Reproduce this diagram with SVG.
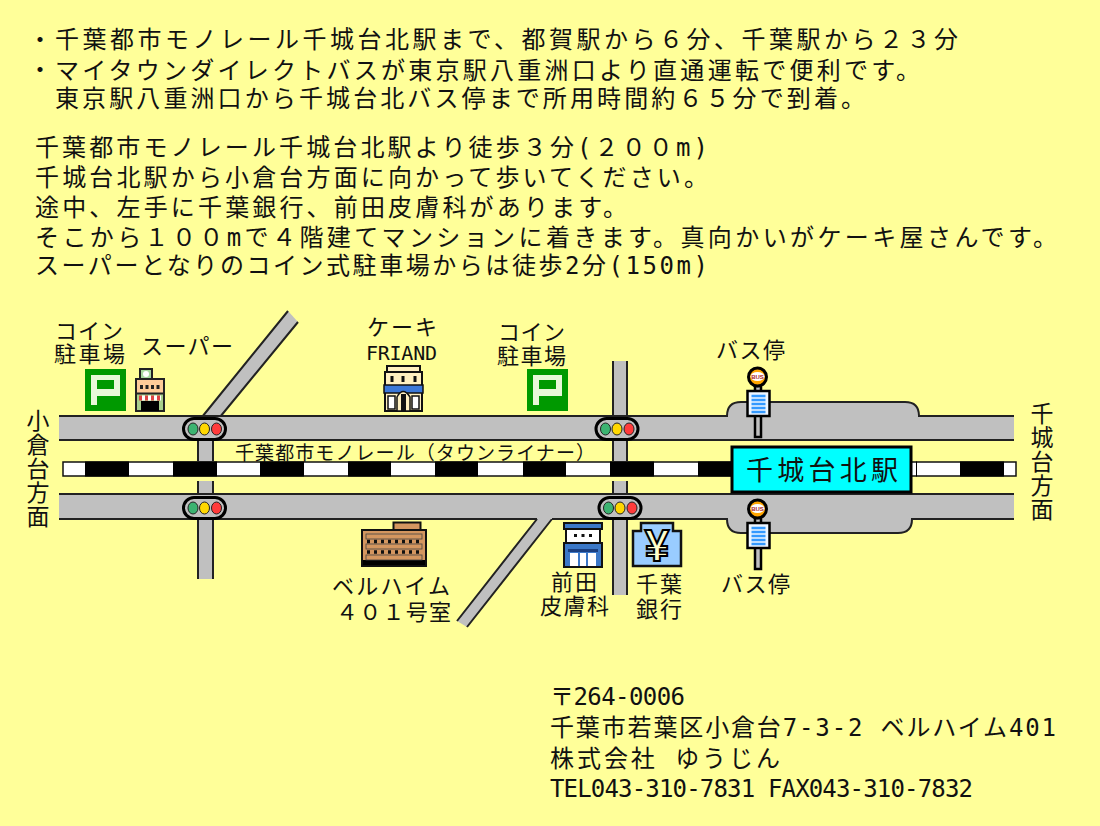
<svg xmlns="http://www.w3.org/2000/svg" width="1100" height="826" viewBox="0 0 1100 826">
<style>
text{font-family:"DejaVu Sans Mono","Noto Sans CJK JP","Noto Sans",sans-serif;fill:#111;font-size:24px}
.s{font-size:22px}
.v{font-size:23px;writing-mode:vertical-rl;letter-spacing:1px}
.rd{fill:#c0c0c0}
.ln{fill:none;stroke:#222;stroke-width:2}
</style>
<defs>
<g id="light">
<rect x="1.5" y="1.5" width="42" height="21" rx="10.5" fill="#c0c0c0" stroke="#000" stroke-width="3"/>
<ellipse cx="11" cy="12" rx="5" ry="6" fill="#3cb371" stroke="#222"/>
<ellipse cx="22.5" cy="12" rx="5" ry="6" fill="#ffd700" stroke="#222"/>
<ellipse cx="34.5" cy="12" rx="5" ry="6" fill="#ff3b3b" stroke="#222"/>
</g>
<g id="parking">
<rect width="41" height="42" fill="#009900"/>
<path fill-rule="evenodd" fill="#e8f8d8" d="M6 6H35V27H12V36H6ZM12 11V20H29V11Z"/>
</g>
<g id="busstop">
<rect x="-2.500" y="9" width="6" height="51" fill="#c0c0c0" stroke="#000" stroke-width="2.500"/>
<circle cx="0" cy="0" r="9" fill="#ffa500" stroke="#000" stroke-width="3"/>
<ellipse cx="0" cy="-0.5" rx="7" ry="4.500" fill="#fff"/>
<text x="0" y="1.500" text-anchor="middle" style="font-size:6px;fill:#a22;font-weight:700;font-family:'Liberation Sans',sans-serif">BUS</text>
<rect x="-10" y="14" width="22" height="25" fill="#eef6ff" stroke="#000" stroke-width="2.500"/>
<path d="M-6 19H8M-6 23H8M-6 27H8M-6 31H8M-6 35H8" stroke="#3399ff" stroke-width="2.400"/>
</g>
</defs>
<rect width="1100" height="826" fill="#ffff99"/>

<g id="info-text">
<text x="28" y="48">・</text>
<text x="55" y="48" textLength="903">千葉都市モノレール千城台北駅まで、都賀駅から６分、千葉駅から２３分</text>
<text x="28" y="78">・</text>
<text x="55" y="79" textLength="865">マイタウンダイレクトバスが東京駅八重洲口より直通運転で便利です。</text>
<text x="55" y="107" textLength="810">東京駅八重洲口から千城台北バス停まで所用時間約６５分で到着。</text>
<text x="35" y="156" textLength="673">千葉都市モノレール千城台北駅より徒歩３分(２００m)</text>
<text x="35" y="186" textLength="673">千城台北駅から小倉台方面に向かって歩いてください。</text>
<text x="35" y="216" textLength="592">途中、左手に千葉銀行、前田皮膚科があります。</text>
<text x="35" y="246" textLength="1022">そこから１００mで４階建てマンションに着きます。真向かいがケーキ屋さんです。</text>
<text x="35" y="274" textLength="673">スーパーとなりのコイン式駐車場からは徒歩2分(150m)</text>
</g>

<g id="connectors">
<rect class="rd" x="198" y="438" width="15" height="24"/>
<rect class="rd" x="198" y="481" width="15" height="98"/>
<path class="ln" d="M198 440V461M213 440V461M198 481V495M213 481V495M198 519V579M213 519V579"/>
<rect class="rd" x="613" y="361" width="14" height="101"/>
<rect class="rd" x="613" y="481" width="14" height="114"/>
<path class="ln" d="M613 361V416M627 361V416M613 440V461M627 440V461M613 481V495M627 481V495M613 519V595M627 519V595"/>
<path class="rd" d="M202 417L288 311L298 322L220 417Z"/>
<path class="ln" d="M202 417L288 311M298 322L220 417"/>
<path class="rd" d="M537 518L552 518L467 627L457 621Z"/>
<path class="ln" d="M537 519L457 621M552 519L467 627"/>
<path class="rd" d="M59 416H727Q727 402 741 402H905Q919 402 919 416H1014V440H59Z"/>
<path class="ln" d="M59 416H727Q727 402 741 402H905Q919 402 919 416H1014M59 440H1014"/>
<path class="rd" d="M59 494H1014V519H912Q912 533 898 533H741Q727 533 727 519H59Z"/>
<path class="ln" d="M59 494H1014M59 519H537M552 519H613M627 519H727Q727 533 741 533H898Q912 533 912 519H1014"/>
</g>

<g id="monorail">
<text x="235" y="460" textLength="360" style="font-size:19px">千葉都市モノレール（タウンライナー）</text>
<rect x="63" y="462" width="953" height="14" fill="#fff" stroke="#111" stroke-width="1.500"/>
<path d="M85 469H129M173 469H217M260 469H304M348 469H391M435 469H478M523 469H566M610 469H654M698 469H735M916 469H917M960 469H1004" stroke="#000" stroke-width="15"/>
</g>

<g id="lights">
<use href="#light" x="182" y="417"/>
<use href="#light" x="594.500" y="417"/>
<use href="#light" x="182" y="496"/>
<use href="#light" x="597.500" y="496"/>
</g>

<g id="station">
<rect x="732" y="447" width="179" height="45" fill="#00ffff" stroke="#000" stroke-width="3"/>
<text x="746" y="480" textLength="152" style="font-size:27px">千城台北駅</text>
</g>

<g id="bus-north"><use href="#busstop" x="757.500" y="377"/><text class="s" x="716" y="358" textLength="69">バス停</text></g>
<g id="bus-south"><use href="#busstop" x="757.500" y="509"/><text class="s" x="721" y="592" textLength="69">バス停</text></g>

<g id="parking-west">
<use href="#parking" x="85" y="369"/>
<text class="s" x="55" y="339" textLength="68">コイン</text>
<text class="s" x="54" y="362" textLength="71">駐車場</text>
</g>
<g id="parking-east">
<use href="#parking" x="527" y="369"/>
<text class="s" x="498" y="340" textLength="67">コイン</text>
<text class="s" x="497" y="364" textLength="69">駐車場</text>
</g>

<g id="supermarket">
<rect x="140" y="369" width="12" height="10" fill="#a8d8a0" stroke="#222" stroke-width="2"/>
<circle cx="146" cy="374" r="3" fill="#fff"/>
<rect x="136" y="379" width="28" height="32" fill="#a8d08c" stroke="#222" stroke-width="2"/>
<rect x="137" y="380" width="26" height="13" fill="#ffcc99"/>
<path d="M140 387H160" stroke="#222" stroke-width="4" stroke-dasharray="3 2.500"/>
<path d="M137 393.500H163" stroke="#222" stroke-width="2"/>
<path d="M139 398H161" stroke="#dd4444" stroke-width="5" stroke-dasharray="3 3"/>
<path d="M139 398H161" stroke="#fff" stroke-width="5" stroke-dasharray="3 3" stroke-dashoffset="3"/>
<rect x="141" y="401" width="18" height="10" fill="#000"/>
<text class="s" x="141" y="354" textLength="92">スーパー</text>
</g>

<g id="cake-shop">
<rect x="387" y="366" width="33" height="6" fill="#fff0c0" stroke="#111" stroke-width="2"/>
<rect x="385" y="372" width="37" height="39" fill="#fff0c0" stroke="#111" stroke-width="2"/>
<path d="M392 376V382M403 376V382M415 376V382" stroke="#111" stroke-width="3"/>
<rect x="384" y="385" width="39" height="8" fill="#3b78d8" stroke="#111" stroke-width="1.500"/>
<path d="M397 411V397Q403 386 410 397V411Z" fill="#fff0c0" stroke="#111" stroke-width="1.500"/>
<rect x="401" y="394" width="5" height="17" fill="#111"/>
<rect x="388" y="396" width="7" height="13" fill="#fff" stroke="#111" stroke-width="1.500"/>
<rect x="412" y="396" width="7" height="13" fill="#fff" stroke="#111" stroke-width="1.500"/>
<text class="s" x="367" y="335" textLength="70">ケーキ</text>
<text x="366" y="360" textLength="71" style="font-size:20px">FRIAND</text>
</g>

<g id="bellheim">
<rect x="393.500" y="522.500" width="27" height="8" fill="#d4965f" stroke="#111" stroke-width="2"/>
<rect x="362" y="530" width="64" height="36" fill="#d4965f" stroke="#111" stroke-width="2"/>
<rect x="363" y="560" width="62" height="5" fill="#000"/>
<rect x="366" y="534" width="56" height="5" fill="#d4965f" stroke="#444" stroke-width="0.800"/>
<rect x="366" y="544" width="56" height="5" fill="#d4965f" stroke="#444" stroke-width="0.800"/>
<rect x="366" y="555" width="56" height="5" fill="#d4965f" stroke="#444" stroke-width="0.800"/>
<path d="M367 541.500H421M367 552H421" stroke="#111" stroke-width="3.500" stroke-dasharray="3 4"/>
<text class="s" x="332" y="594" textLength="118">ベルハイム</text>
<text class="s" x="336" y="620" textLength="115">４０１号室</text>
</g>

<g id="clinic">
<rect x="564" y="523" width="38" height="6" fill="#3b78c8" stroke="#111" stroke-width="2"/>
<rect x="566" y="529" width="34" height="14" fill="#fff" stroke="#111" stroke-width="2"/>
<path d="M574 535.500H592" stroke="#111" stroke-width="3" stroke-dasharray="3 4.500"/>
<rect x="564" y="543" width="38" height="24" fill="#3b78c8" stroke="#111" stroke-width="2"/>
<rect x="568" y="549" width="30" height="3" fill="#1b3f80"/>
<path d="M570 553H596V566H570Z" fill="#fff"/>
<path d="M579 553V566M587 553V566" stroke="#3b78c8" stroke-width="2"/>
<text class="s" x="551" y="590" textLength="46">前田</text>
<text class="s" x="540" y="614" textLength="69">皮膚科</text>
</g>

<g id="bank">
<path d="M633 566V531H641V523H673V531H681V566Z" fill="#99ccff" stroke="#111" stroke-width="2.500"/>
<text x="657" y="561" text-anchor="middle" style="font-size:44px;font-weight:700;font-family:'Liberation Sans',sans-serif;fill:#ffffcc;stroke:#000;stroke-width:2">¥</text>
<text class="s" x="636" y="592" textLength="46">千葉</text>
<text class="s" x="636" y="617" textLength="46">銀行</text>
</g>

<text id="direction-west" class="v" x="36" y="409">小倉台方面</text>
<text id="direction-east" class="v" x="1040" y="402">千城台方面</text>

<g id="address">
<text x="550" y="705" textLength="135">〒264-0006</text>
<text x="550" y="736" textLength="506">千葉市若葉区小倉台7-3-2 ベルハイム401</text>
<text x="550" y="767" textLength="230">株式会社 ゆうじん</text>
<text x="550" y="797" textLength="423">TEL043-310-7831 FAX043-310-7832</text>
</g>
</svg>
